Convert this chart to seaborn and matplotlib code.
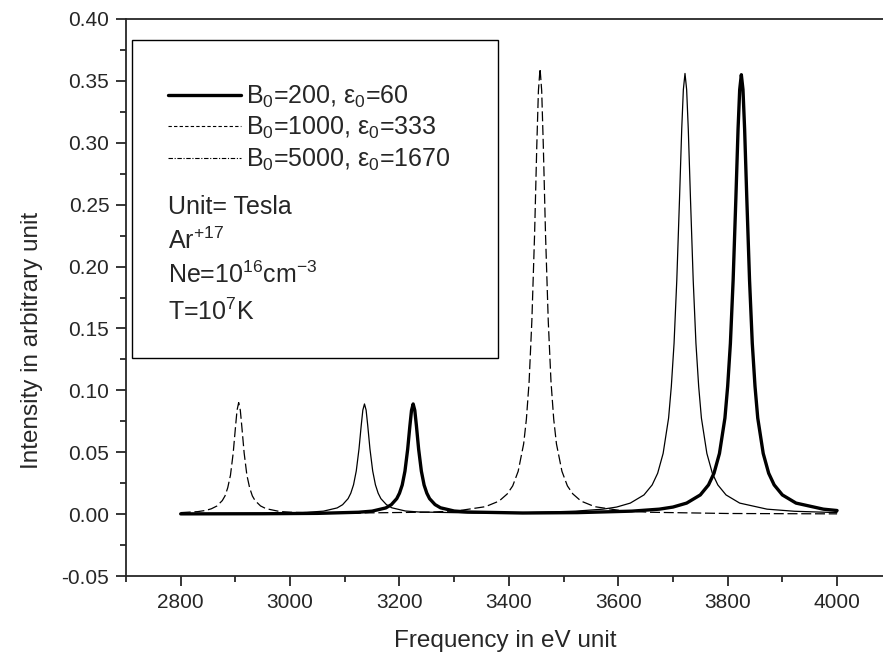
import matplotlib
matplotlib.use("Agg")
import matplotlib.pyplot as plt
from matplotlib.lines import Line2D
from matplotlib.patches import Rectangle
from matplotlib.ticker import MultipleLocator, FormatStrFormatter
import seaborn as sns

# B0=200, eps0=60 (thick solid)
x_b200 = [2800, 2950, 3050, 3125, 3150, 3175, 3185, 3195, 3200, 3205, 3210, 3215, 3219, 3222,
          3225, 3228, 3231, 3235, 3240, 3245, 3250, 3255, 3265, 3275, 3300, 3325, 3425, 3525,
          3625, 3675, 3700, 3725, 3750, 3765, 3775, 3785, 3795, 3800, 3805, 3810, 3815, 3819,
          3822, 3825, 3828, 3831, 3835, 3840, 3845, 3850, 3855, 3865, 3875, 3885, 3900, 3925,
          3975, 4000]
y_b200 = [0.0002, 0.0003, 0.0006, 0.0015, 0.0024, 0.0050, 0.0076, 0.0125, 0.0169, 0.0235,
          0.0347, 0.0525, 0.0712, 0.0838, 0.0890, 0.0838, 0.0712, 0.0525, 0.0347, 0.0235,
          0.0169, 0.0125, 0.0077, 0.0051, 0.0025, 0.0017, 0.0009, 0.0012, 0.0024, 0.0040,
          0.0057, 0.0089, 0.0155, 0.0236, 0.0330, 0.0490, 0.0776, 0.1032, 0.1380, 0.1890,
          0.2550, 0.3110, 0.3430, 0.3550, 0.3430, 0.3110, 0.2550, 0.1890, 0.1380, 0.1032,
          0.0776, 0.0490, 0.0330, 0.0236, 0.0155, 0.0089, 0.0040, 0.0029]

# B0=1000, eps0=333 (dashed)
x_b1000 = [2800, 2831, 2846, 2856, 2866, 2876, 2881, 2886, 2891, 2896, 2900, 2903, 2906, 2909,
           2912, 2916, 2921, 2926, 2931, 2936, 2946, 2956, 2981, 3006, 3106, 3257, 3307, 3357,
           3382, 3397, 3407, 3417, 3427, 3432, 3437, 3442, 3447, 3451, 3454, 3457, 3460, 3463,
           3467, 3472, 3477, 3482, 3487, 3497, 3507, 3517, 3532, 3557, 3607, 3657, 3800, 4000]
y_b1000 = [0.0012, 0.0020, 0.0030, 0.0043, 0.0065, 0.0109, 0.0147, 0.0213, 0.0315, 0.0494,
           0.0695, 0.0839, 0.0901, 0.0839, 0.0695, 0.0494, 0.0315, 0.0213, 0.0147, 0.0109,
           0.0066, 0.0044, 0.0021, 0.0014, 0.0008, 0.0016, 0.0027, 0.0060, 0.0105, 0.0163,
           0.0228, 0.0346, 0.0567, 0.0766, 0.1070, 0.1560, 0.2260, 0.2970, 0.3420, 0.3600,
           0.3420, 0.2970, 0.2260, 0.1560, 0.1070, 0.0766, 0.0567, 0.0346, 0.0228, 0.0163,
           0.0105, 0.0060, 0.0027, 0.0015, 0.0005, 0.0002]

# B0=5000, eps0=1670 (thin)
x_b5000 = [2800, 2950, 3020, 3061, 3086, 3096, 3106, 3111, 3116, 3121, 3126, 3130, 3133, 3136,
           3139, 3142, 3146, 3151, 3156, 3161, 3166, 3176, 3186, 3211, 3236, 3336, 3436, 3522,
           3572, 3597, 3622, 3647, 3662, 3672, 3682, 3692, 3697, 3702, 3707, 3712, 3716, 3719,
           3722, 3725, 3728, 3732, 3737, 3742, 3747, 3752, 3762, 3772, 3782, 3797, 3822, 3872,
           3922, 4000]
y_b5000 = [0.0003, 0.0005, 0.0011, 0.0024, 0.0050, 0.0076, 0.0125, 0.0169, 0.0237, 0.0349,
           0.0527, 0.0714, 0.0840, 0.0890, 0.0840, 0.0714, 0.0527, 0.0349, 0.0237, 0.0169,
           0.0125, 0.0077, 0.0051, 0.0025, 0.0017, 0.0009, 0.0012, 0.0024, 0.0040, 0.0057,
           0.0089, 0.0155, 0.0236, 0.0330, 0.0490, 0.0776, 0.1032, 0.1380, 0.1890, 0.2550,
           0.3110, 0.3430, 0.3560, 0.3430, 0.3110, 0.2550, 0.1890, 0.1380, 0.1032, 0.0776,
           0.0490, 0.0330, 0.0236, 0.0155, 0.0089, 0.0040, 0.0023, 0.0012]

labels = [r"B$\mathregular{_0}$=200, ε$\mathregular{_0}$=60",
          r"B$\mathregular{_0}$=1000, ε$\mathregular{_0}$=333",
          r"B$\mathregular{_0}$=5000, ε$\mathregular{_0}$=1670"]
notes = ["Unit= Tesla",
         r"Ar$\mathregular{^{+17}}$",
         r"Ne=10$\mathregular{^{16}}$cm$\mathregular{^{-3}}$",
         r"T=10$\mathregular{^{7}}$K"]

sns.set_style("ticks")
plt.rcParams["font.family"] = ["Liberation Sans", "DejaVu Sans"]
plt.rcParams["mathtext.default"] = "regular"

W, H = 883, 660
fig = plt.figure(figsize=(W / 100, H / 100), dpi=100)
# axes box: left spine at x=126, top at y=19, bottom at y=576 (pixels)
ax = fig.add_axes([126 / W, (H - 576) / H, 1 - 126 / W, 557 / H])

sns.lineplot(x=x_b200, y=y_b200, ax=ax, color="black", linewidth=2.4,
             estimator=None, sort=False)
sns.lineplot(x=x_b1000, y=y_b1000, ax=ax, color="black", linewidth=0.9,
             linestyle=(0, (8, 3)), estimator=None, sort=False)
sns.lineplot(x=x_b5000, y=y_b5000, ax=ax, color="black", linewidth=0.9,
             estimator=None, sort=False)

ax.set_xlim(2700, 4084)
ax.set_ylim(-0.05, 0.40)
ax.xaxis.set_major_locator(MultipleLocator(200))
ax.xaxis.set_minor_locator(MultipleLocator(100))
ax.yaxis.set_major_locator(MultipleLocator(0.05))
ax.yaxis.set_minor_locator(MultipleLocator(0.025))
ax.yaxis.set_major_formatter(FormatStrFormatter("%.2f"))
ax.tick_params(which="major", direction="out", length=7, width=1.3, labelsize=15, pad=5)
ax.tick_params(which="minor", direction="out", length=4, width=1.3)
ax.spines["right"].set_visible(False)
for s in ["left", "bottom", "top"]:
    ax.spines[s].set_linewidth(1.3)

fig.text(505 / W, 1 - 641 / H, "Frequency in eV unit", fontsize=17.5,
         ha="center", va="center")
fig.text(32 / W, 1 - 340 / H, "Intensity in arbitrary unit", fontsize=17.5,
         ha="center", va="center", rotation=90)

# legend box (pixels 132..498 x 40..358)
ax.add_patch(Rectangle(((132 - 126) / 757, (576 - 358) / 557), 366 / 757, 318 / 557,
                       transform=ax.transAxes, fill=False, edgecolor="black",
                       linewidth=1.0, zorder=3))
handles = [Line2D([], [], color="black", linewidth=2.4),
           Line2D([], [], color="black", linewidth=0.8, linestyle=(0, (3, 2))),
           Line2D([], [], color="black", linewidth=0.8, linestyle=(0, (4, 1.5, 1, 1.5)))]
ax.legend(handles, labels, loc="upper left",
          bbox_to_anchor=((168 - 126) / 757, (576 - 84) / 557),
          frameon=False, fontsize=18, handlelength=2.9, handletextpad=0.2,
          labelspacing=0.2, borderaxespad=0, borderpad=0)
for t, yp in zip(notes, [207, 241, 275, 312]):
    ax.text((168 - 126) / 757, (576 - yp) / 557, t, transform=ax.transAxes,
            fontsize=18, va="center", ha="left")

fig.savefig("out.png", dpi=100)
